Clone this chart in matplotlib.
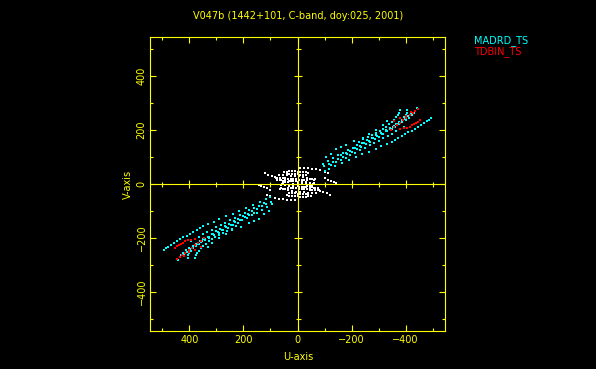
import numpy as np
import matplotlib
matplotlib.use("Agg")
import matplotlib.pyplot as plt
from matplotlib.ticker import MultipleLocator

# uv-coverage, one half of each track (the conjugate half is -u, -v)
title = "V047b (1442+101, C-band, doy:025, 2001)"
series_names = ["MADRD_TS", "TDBIN_TS"]

madrd_tracks = [
    # lower outer track
    [(-496, 244), (-487, 238), (-478, 232), (-468, 226), (-457, 219), (-446, 212),
     (-434, 205), (-422, 198), (-410, 191), (-398, 184), (-385, 177), (-372, 170),
     (-360, 163), (-348, 156), (-330, 148), (-310, 140), (-290, 131), (-265, 120),
     (-240, 110), (-215, 99), (-190, 88), (-165, 77), (-140, 66), (-118, 56), (-100, 47)],
    # upper track
    [(-441, 281), (-436, 272), (-430, 262), (-422, 254), (-412, 246), (-400, 238),
     (-388, 230), (-375, 222), (-362, 213), (-348, 204), (-333, 195), (-318, 186),
     (-302, 176), (-286, 166), (-270, 157), (-253, 147), (-236, 138), (-219, 128),
     (-202, 119), (-185, 110), (-168, 101), (-150, 92), (-132, 83), (-115, 74), (-98, 65)],
    [(-407, 274), (-404, 265), (-400, 256), (-394, 247), (-386, 238), (-377, 230),
     (-366, 222), (-354, 213), (-341, 205), (-327, 196), (-312, 187), (-296, 178),
     (-280, 169), (-264, 160), (-247, 151), (-230, 142), (-213, 133), (-196, 124),
     (-178, 115), (-160, 106)],
    [(-378, 274), (-375, 265), (-371, 256), (-366, 247), (-359, 238), (-350, 229),
     (-340, 221), (-329, 213), (-317, 205), (-304, 197), (-290, 189), (-275, 181),
     (-260, 173), (-244, 165), (-228, 157)],
    # middle of the bundle
    [(-420, 262), (-410, 252), (-398, 242), (-385, 233), (-371, 224), (-357, 216),
     (-342, 208), (-326, 199), (-309, 190), (-292, 181), (-275, 172), (-258, 163),
     (-240, 153), (-222, 144), (-204, 134), (-186, 125), (-168, 116), (-150, 106),
     (-132, 96), (-114, 86), (-96, 76)],
    [(-395, 210), (-381, 203), (-366, 195), (-350, 187), (-334, 179), (-318, 170),
     (-301, 161), (-284, 152), (-267, 143), (-250, 134), (-232, 125), (-214, 116),
     (-196, 107), (-178, 98), (-160, 89), (-142, 80), (-124, 71)],
    # sparse dots above the bundle
    [(-107, 100), (-125, 112), (-144, 128), (-162, 138), (-181, 144), (-210, 158),
     (-241, 170), (-265, 185), (-292, 200), (-315, 218), (-333, 233)],
]

tdbin_tracks = [
    [(-347, 200), (-359, 210), (-370, 219), (-380, 228), (-392, 237), (-403, 246),
     (-415, 255), (-426, 263), (-436, 270), (-446, 278)],
    [(-378, 205), (-396, 206), (-405, 209), (-415, 212), (-424, 217), (-433, 221),
     (-440, 226), (-446, 231), (-452, 238)],
    [(-359, 233), (-378, 244), (-402, 253), (-421, 268)],
]

# short baselines near the centre (no legend entry)
other_tracks = [
    [(-10, 58), (-25, 59), (-40, 58), (-55, 57), (-70, 55), (-85, 51), (-100, 46), (-112, 40)],
    [(122, 40), (110, 34), (95, 28), (80, 22), (66, 15), (55, 10)],
    [(-100, 22), (-112, 16), (-125, 10), (-136, 6), (-144, 4)],
    [(70, 35), (55, 33), (40, 32), (25, 30), (10, 29), (-5, 28), (-20, 26), (-35, 24),
     (-50, 20), (-62, 16)],
    [(75, 15), (60, 14), (45, 13), (30, 12), (15, 10), (0, 9), (-15, 8), (-30, 6),
     (-45, 3), (-58, 0)],
    [(60, -5), (45, -4), (30, -2), (15, -1), (0, 0), (-15, 2), (-30, 3), (-45, 5)],
    [(50, 45), (40, 46), (30, 47), (20, 47), (10, 47), (0, 46), (-10, 45), (-20, 44),
     (-30, 43), (-40, 41)],
    [(65, -20), (55, -19), (45, -18), (35, -17), (25, -15), (15, -14), (5, -13),
     (-5, -12), (-15, -11), (-25, -10), (-35, -8), (-45, -6), (-55, -4)],
    [(85, 25), (75, 24), (65, 23), (55, 22), (45, 21), (35, 20), (25, 19), (15, 18),
     (5, 17), (-5, 16), (-15, 15), (-25, 14), (-35, 13)],
    [(40, 38), (30, 38), (20, 37), (10, 36), (0, 36), (-10, 35), (-20, 34), (-30, 33)],
]

YEL = "#ffff00"
fig = plt.figure(figsize=(5.96, 3.69), dpi=100, facecolor="black")
ax = fig.add_axes([150 / 596, 38 / 369, 295 / 596, 294 / 369], facecolor="black")


def draw(tracks, color):
    for tr in tracks:
        u = np.array([p[0] for p in tr])
        v = np.array([p[1] for p in tr])
        for su, sv in ((u, v), (-u, -v)):
            ax.plot(su, sv, ls="none", marker="s", ms=1.9, mew=0, color=color)


draw(other_tracks, "white")
draw(madrd_tracks, "cyan")
draw(tdbin_tracks, "red")

ax.set_xlim(546, -546)
ax.set_ylim(-545, 545)

# cross hair through origin with its own ticks
ax.axhline(0, color=YEL, lw=0.8)
ax.axvline(0, color=YEL, lw=0.8)
for pos, ms in ((-100, 3.6), (100, 3.6), (-300, 3.6), (300, 3.6), (-500, 3.6), (500, 3.6),
                (-200, 5.8), (200, 5.8), (-400, 5.8), (400, 5.8)):
    ax.plot([pos], [0], marker="|", ms=ms, mew=0.8, color=YEL)
    ax.plot([0], [pos], marker="_", ms=ms, mew=0.8, color=YEL)

ax.xaxis.set_major_locator(MultipleLocator(200))
ax.xaxis.set_minor_locator(MultipleLocator(100))
ax.yaxis.set_major_locator(MultipleLocator(200))
ax.yaxis.set_minor_locator(MultipleLocator(100))
ax.tick_params(which="both", direction="in", colors=YEL, top=True, right=True,
               labelsize=7, width=0.8)
ax.tick_params(which="major", length=4)
ax.tick_params(which="minor", length=2.2)
ax.tick_params(axis="x", pad=3)
ax.tick_params(axis="y", pad=2.5)
for lab in ax.get_yticklabels():
    lab.set_rotation(90)
    lab.set_va("center")
for s in ax.spines.values():
    s.set_color(YEL)
    s.set_linewidth(0.8)

fig.text(298 / 596, 1 - 357 / 369, "U-axis", color=YEL, fontsize=7, ha="center", va="center")
fig.text(128 / 596, 1 - 184 / 369, "V-axis", color=YEL, fontsize=7, ha="center", va="center",
         rotation=90)

fig.text(298 / 596, 1 - 16 / 369, title, color=YEL, fontsize=7, ha="center", va="center")
fig.text(474 / 596, 1 - 41 / 369, series_names[0], color="cyan", fontsize=7, va="center")
fig.text(474 / 596, 1 - 52 / 369, series_names[1], color="red", fontsize=7, va="center")

fig.savefig("out.png", dpi=100, facecolor="black")
